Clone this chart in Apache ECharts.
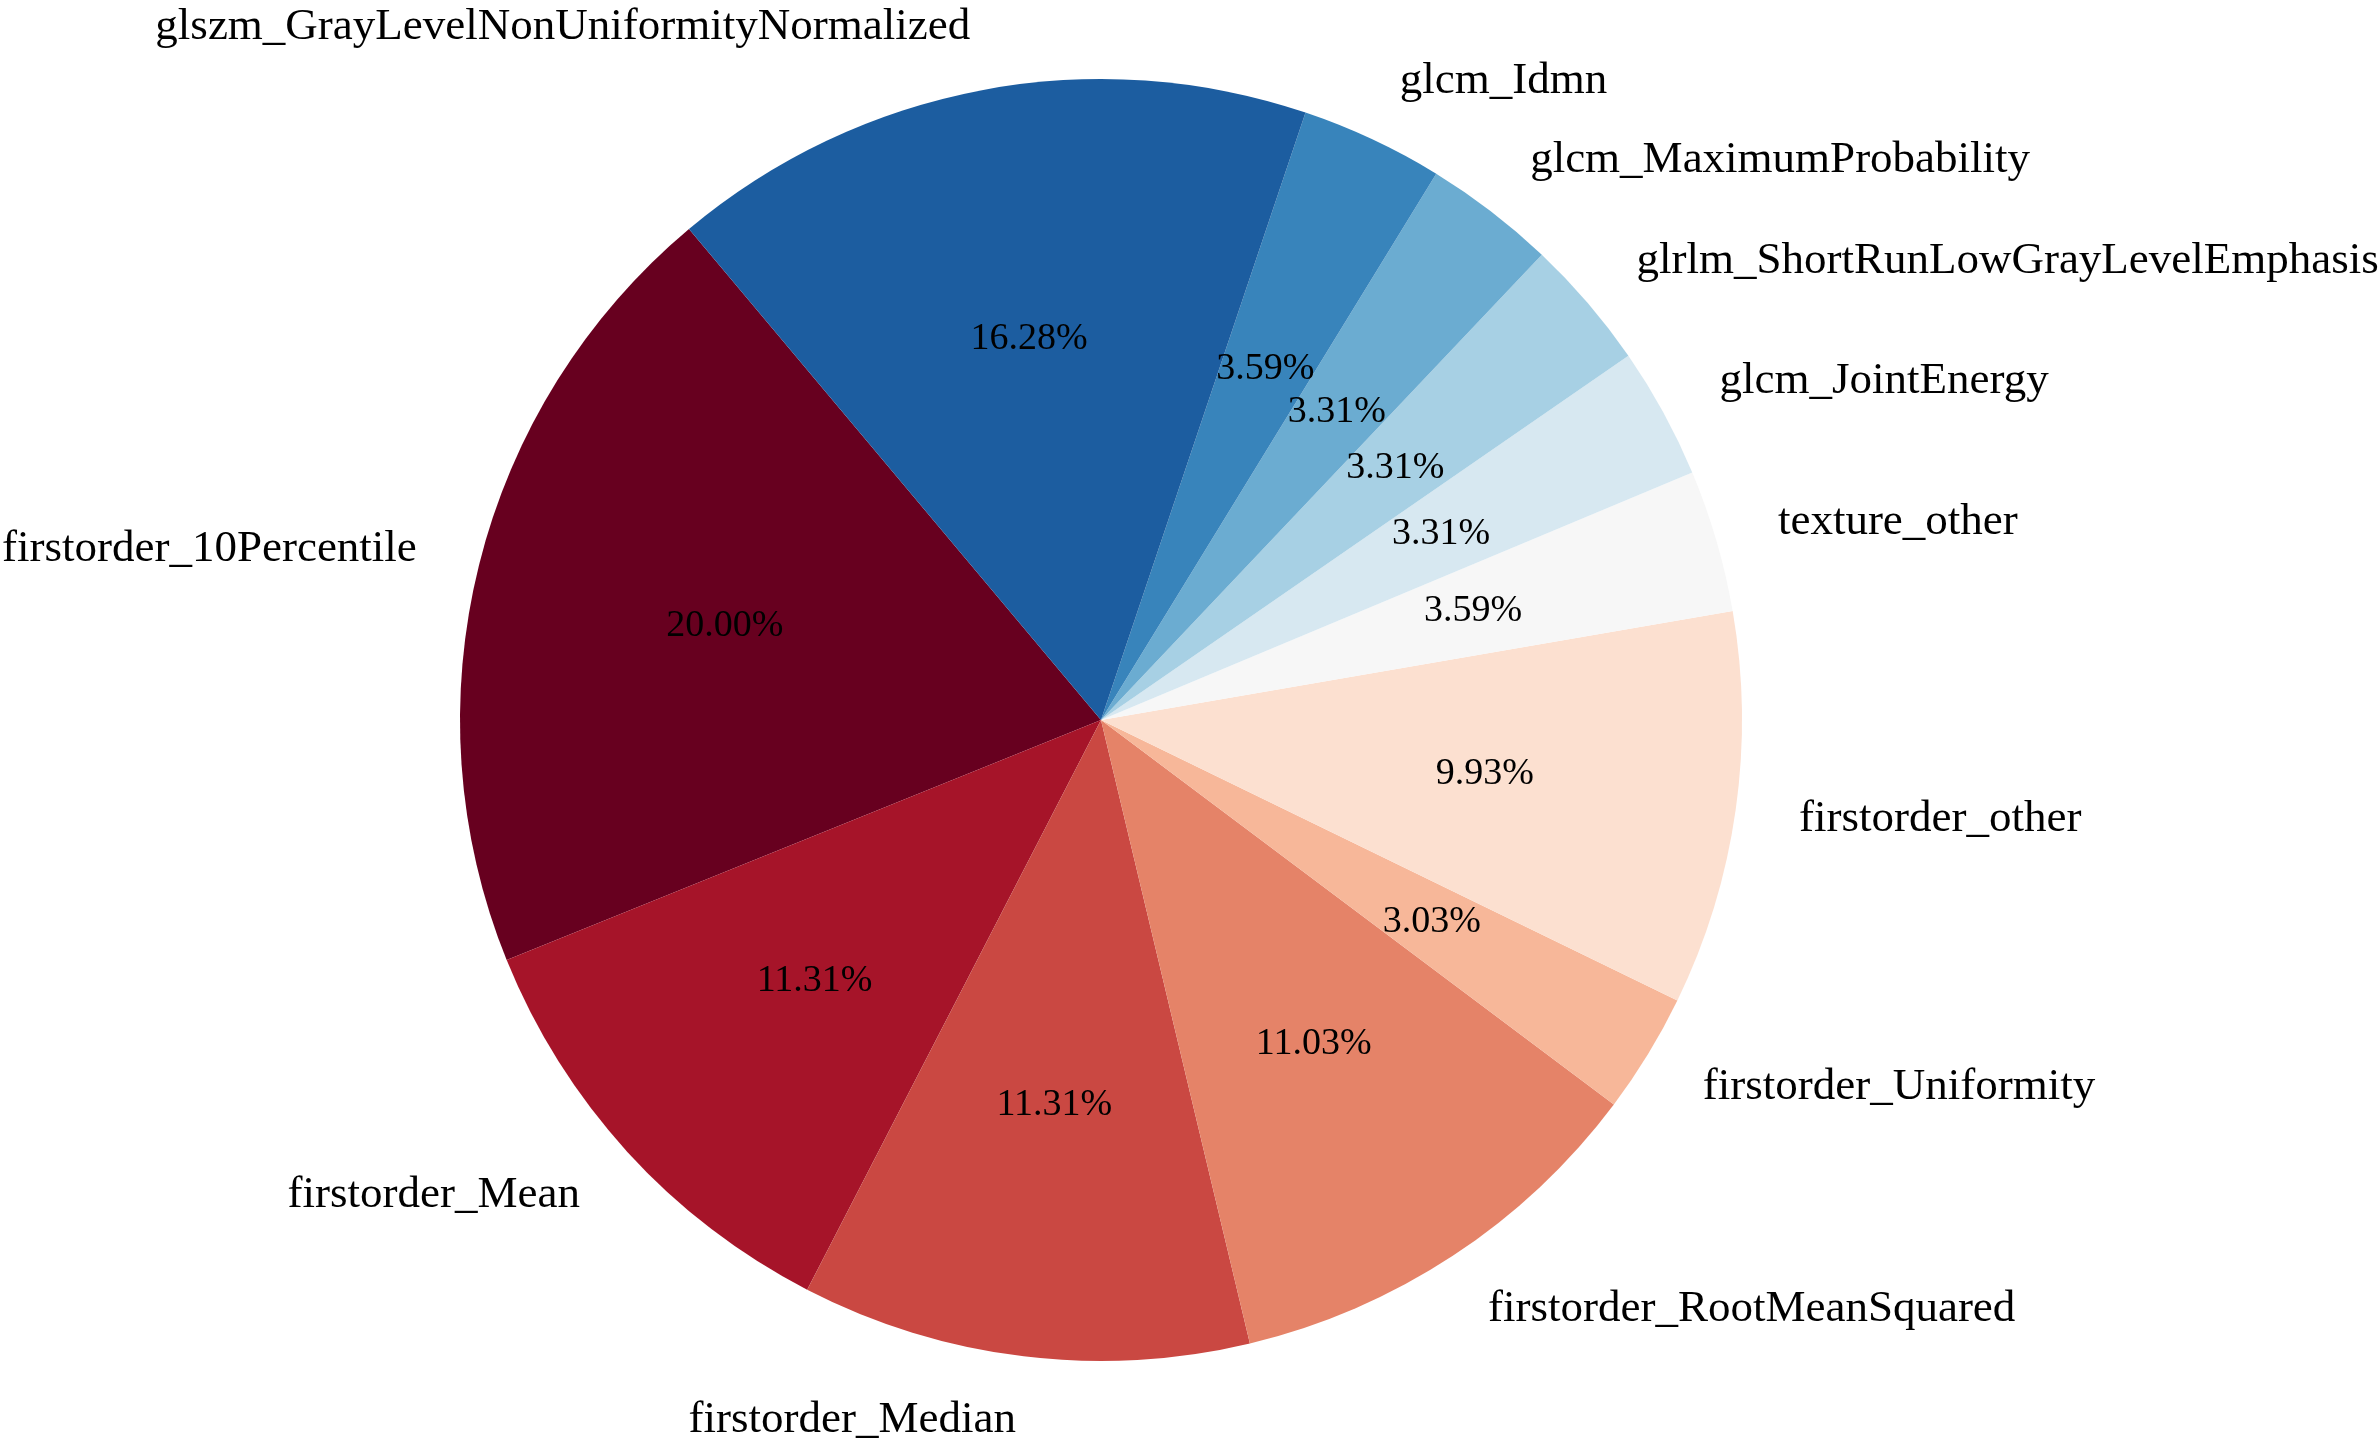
<!DOCTYPE html>
<html>
<head>
    <meta charset="utf-8">
    <title>feature share pie</title>
    <script src="https://cdn.jsdelivr.net/npm/echarts@6/dist/echarts.min.js"></script>
    <style>
        html, body {margin: 0; padding: 0; background: #fff;}
        #main {width: 2379px; height: 1451px;}
    </style>
</head>
<body>
<div id="main"></div>
<script>
    // slice names, counter-clockwise from the upper left
    var names = [
        'firstorder_10Percentile',
        'firstorder_Mean',
        'firstorder_Median',
        'firstorder_RootMeanSquared',
        'firstorder_Uniformity',
        'firstorder_other',
        'texture_other',
        'glcm_JointEnergy',
        'glrlm_ShortRunLowGrayLevelEmphasis',
        'glcm_MaximumProbability',
        'glcm_Idmn',
        'glszm_GrayLevelNonUniformityNormalized'
    ];
    // share of each slice (%)
    var shares = [20.00, 11.31, 11.31, 11.03, 3.03, 9.93, 3.59, 3.31, 3.31, 3.31, 3.59, 16.28];
    // RdBu colours, one per slice
    var colors = ['#67001f', '#a61429', '#ca4842', '#e58368', '#f7b799', '#fce0d0',
        '#f7f7f7', '#d7e8f1', '#a7d0e4', '#6bacd1', '#3884bb', '#1c5da0'];

    var R = 641;
    var font = '"Liberation Serif", "Times New Roman", serif';

    var data = [];
    for (var i = 0; i < names.length; i++) {
        data.push({name: names[i], value: shares[i], itemStyle: {color: colors[i]}});
    }

    var chart = echarts.init(document.getElementById('main'));
    chart.setOption({
        backgroundColor: '#fff',
        animation: false,
        series: [
            {
                // the slices and the names outside
                type: 'pie',
                center: [1101, 720],
                radius: R,
                startAngle: 130,
                clockwise: false,
                avoidLabelOverlap: false,
                itemStyle: {borderWidth: 0},
                emphasis: {disabled: true},
                label: {
                    show: true,
                    position: 'outside',
                    distanceToLabelLine: 0,
                    fontFamily: font,
                    fontSize: 45,
                    color: '#000',
                    formatter: '{b}'
                },
                labelLine: {show: false, length: R * 0.1, length2: 0},
                data: data
            },
            {
                // percent labels at 0.6 R
                type: 'pie',
                silent: true,
                center: [1101, 720],
                radius: [R * 0.2, R],
                startAngle: 130,
                clockwise: false,
                avoidLabelOverlap: false,
                itemStyle: {color: 'rgba(0,0,0,0)', borderWidth: 0},
                emphasis: {disabled: true},
                label: {
                    show: true,
                    position: 'inside',
                    fontFamily: font,
                    fontSize: 38,
                    color: '#000',
                    formatter: function (p) {
                        return p.value.toFixed(2) + '%';
                    }
                },
                labelLine: {show: false},
                data: shares.map(function (v, k) {
                    return {name: names[k], value: v};
                })
            }
        ]
    });
</script>
</body>
</html>
